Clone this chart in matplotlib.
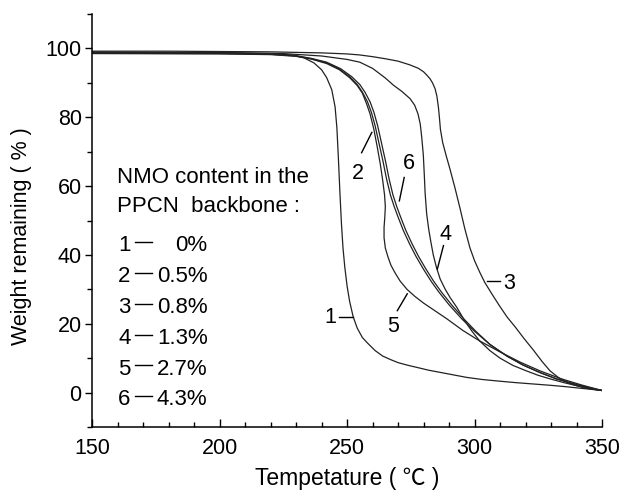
import numpy as np
import matplotlib
matplotlib.use('Agg')
import matplotlib.pyplot as plt

plt.rcParams['font.family'] = ['Liberation Sans', 'DejaVu Sans']
plt.rcParams['font.size'] = 15.5

# TGA curves (temperature in C, weight remaining in %)
x1 = [150, 200, 220, 228, 233, 237, 240, 242, 244, 245.3, 246, 246.6, 247.2, 247.8, 248.4, 249.1, 250,
      251, 252.4, 254, 256, 258, 261, 264, 267, 270, 274, 277.5, 282, 287, 292, 297, 303, 310, 316,
      323, 330, 336, 341, 345, 350]
y1 = [98.8, 98.7, 98.5, 98.1, 97.3, 95.8, 93.8, 91.5, 88, 83, 77, 68, 58, 49, 42, 36.5, 31,
      26.5, 22, 18.7, 16, 14.4, 12.2, 10.6, 9.6, 8.7, 7.9, 7.3, 6.5, 5.8, 5.1, 4.4, 3.8, 3.3, 2.9,
      2.5, 2.1, 1.7, 1.3, 1.0, 0.6]

x2 = [150, 200, 220, 230, 236, 242, 247, 251, 254, 256, 258, 259.5, 261, 262.5, 264, 265.5, 267, 268.5,
      270, 272, 274.5, 277, 280, 283, 286, 290, 295, 300, 306, 312.7, 319, 325.7, 332, 338.6, 345, 350]
y2 = [98.6, 98.5, 98.3, 97.8, 97, 95.8, 94, 91.8, 89.5, 87.3, 84.5, 81.5, 77.5, 72.5, 67.5, 62, 57.4, 54,
      51, 47.2, 43.2, 39.6, 35.8, 32.3, 29.2, 25.5, 21.4, 17.8, 14, 10.6, 8, 5.8, 4, 2.6, 1.4, 0.6]

x3 = [150, 180, 200, 220, 240, 250, 255, 260, 265, 270, 274.7, 278, 280, 281.2, 282.5, 283.5, 284.5,
      285.2, 285.8, 286.2, 286.6, 287.5, 288.8, 290.4, 292.3, 294.3, 296.2, 298.2, 300, 302, 304,
      306.5, 309.5, 312.7, 316, 319.5, 323, 326.5, 329.6, 333, 336.5, 340, 343.5, 347, 350]
y3 = [99.2, 99.2, 99.1, 99.0, 98.7, 98.4, 98.1, 97.6, 97.0, 96.3, 95.2, 94.2, 93.2, 92.3, 91.2, 90, 88.3,
      86.2, 83, 80, 76.5, 72.6, 69, 64.8, 59.5, 53.5, 47.5, 42, 38.3, 35, 32,
      29, 25.5, 22, 19, 15.6, 12.4, 9, 6.3, 4.3, 2.9, 2.0, 1.3, 0.9, 0.6]

x4 = [150, 200, 225, 240, 250, 255, 260, 265, 268.2, 271.5, 274.7, 276.5, 277.8, 278.7, 279.3, 279.9,
      280.3, 280.6, 281.2, 282, 282.8, 283.8, 285, 286.5, 288.5, 290.5, 293, 296, 299, 302, 306, 310,
      315, 320, 325, 330, 335, 340, 345, 350]
y4 = [98.9, 98.8, 98.5, 97.8, 96.8, 96, 94.2, 91.4, 89.3, 87.5, 85.4, 83.5, 81, 78, 74, 69,
      63, 58, 52, 47.5, 44, 40, 36.5, 33, 30, 27.5, 24.8, 21, 17.8, 15, 12.2, 10,
      7.9, 6.4, 5, 3.9, 2.9, 2.0, 1.2, 0.6]

x5 = [150, 200, 220, 230, 236, 242, 247, 251, 254, 256, 257.6, 259, 260.5, 261.8, 263, 264, 264.7, 265,
      264.8, 264.5, 264.5, 265, 266, 267.2, 268.8, 270.8, 273.5, 276.5, 280, 284, 289, 295.5, 302, 310,
      318, 326, 334, 342, 350]
y5 = [98.5, 98.4, 98.2, 97.7, 96.9, 95.6, 93.8, 91.5, 89.2, 87, 84, 81, 76.5, 71.5, 66.5, 61.5, 57.4, 54,
      51, 48, 45, 42, 39.5, 37, 34.8, 32.4, 30, 28, 26, 24, 21.5, 18, 15, 11.8,
      8.8, 6.2, 4, 2.2, 0.6]

x6 = [150, 200, 220, 230, 236, 242, 247.5, 251.8, 255, 257, 259, 260.5, 262, 263.5, 265, 266.5, 268, 269.5,
      271, 273, 275.5, 278, 281, 284, 287, 291, 295.8, 300.5, 306, 312.7, 319, 325.7, 332, 338.6, 345, 350]
y6 = [98.9, 98.7, 98.4, 97.9, 97.1, 96, 94.1, 91.8, 89.5, 87.3, 84.5, 81.5, 77.5, 72.5, 67.5, 62, 57.4, 54,
      51, 47.2, 43.2, 39.6, 35.8, 32.3, 29.2, 25.5, 21.4, 17.8, 14, 10.6, 8, 5.8, 4, 2.6, 1.4, 0.6]

curves = [(x1, y1), (x2, y2), (x3, y3), (x4, y4), (x5, y5), (x6, y6)]

legend_title = ['NMO content in the', 'PPCN  backbone :']
legend_nums = ['1', '2', '3', '4', '5', '6']
legend_vals = ['0%', '0.5%', '0.8%', '1.3%', '2.7%', '4.3%']

# curve number labels: text position and leader line (start, end)
labels = {
    '1': ((243.3, 21.9), (247.0, 21.9), (252.2, 21.9)),
    '2': ((254.1, 63.8), (255.7, 69.7), (259.7, 75.6)),
    '3': ((313.5, 31.8), (310.0, 32.3), (304.8, 32.3)),
    '4': ((288.5, 46.0), (287.8, 42.7), (285.4, 35.9)),
    '5': ((268.0, 19.3), (269.7, 23.8), (273.6, 28.7)),
    '6': ((274.3, 66.6), (272.4, 62.5), (270.5, 55.7)),
}

fig = plt.figure(figsize=(6.22, 5.0), dpi=100)
ax = fig.add_axes([0.148, 0.146, 0.82, 0.826])

for xs, ys in curves:
    ax.plot(xs, ys, color='#222222', lw=0.9)

for name, (tpos, p0, p1) in labels.items():
    ax.text(tpos[0], tpos[1], name, ha='center', va='center')
    ax.plot([p0[0], p1[0]], [p0[1], p1[1]], color='black', lw=1.0)

ax.text(159.8, 60.9, legend_title[0], ha='left', va='baseline', fontsize=16)
ax.text(159.8, 52.5, legend_title[1], ha='left', va='baseline', fontsize=16)
for i in range(len(legend_nums)):
    yb = 41.0 - 8.95 * i
    ax.text(160.2, yb, legend_nums[i], ha='left', va='baseline', fontsize=16)
    ax.plot([166.9, 173.5], [yb + 2.7, yb + 2.7], color='black', lw=1.0)
    ax.text(195.3, yb, legend_vals[i], ha='right', va='baseline', fontsize=16)

ax.set_xlim(150, 350)
ax.set_ylim(-10, 110)
ax.set_xticks([150, 200, 250, 300, 350])
ax.set_xticks(np.arange(150, 351, 10), minor=True)
ax.set_yticks([0, 20, 40, 60, 80, 100])
ax.set_yticks(np.arange(-10, 111, 10), minor=True)

for s in ['top', 'right']:
    ax.spines[s].set_visible(False)
for s in ['left', 'bottom']:
    ax.spines[s].set_linewidth(1.1)

ax.tick_params(axis='x', which='major', direction='in', length=6, width=1.0, pad=8)
ax.tick_params(axis='x', which='minor', direction='in', length=3.5, width=1.0)
ax.tick_params(axis='y', which='major', direction='out', length=5, width=1.0, pad=2.5)
ax.tick_params(axis='y', which='minor', direction='out', length=3.4, width=1.0)

ax.set_ylabel('Weight remaining ( % )')
ax.yaxis.set_label_coords(-0.118, 0.463)
ax.set_xlabel('Tempetature ( \u2103 )', family=['Liberation Sans', 'Noto Sans CJK SC'], fontsize=16.5)
ax.xaxis.set_label_coords(0.5, -0.098)
ax.xaxis.label.set_va('top')

fig.savefig('out.png', dpi=100)
